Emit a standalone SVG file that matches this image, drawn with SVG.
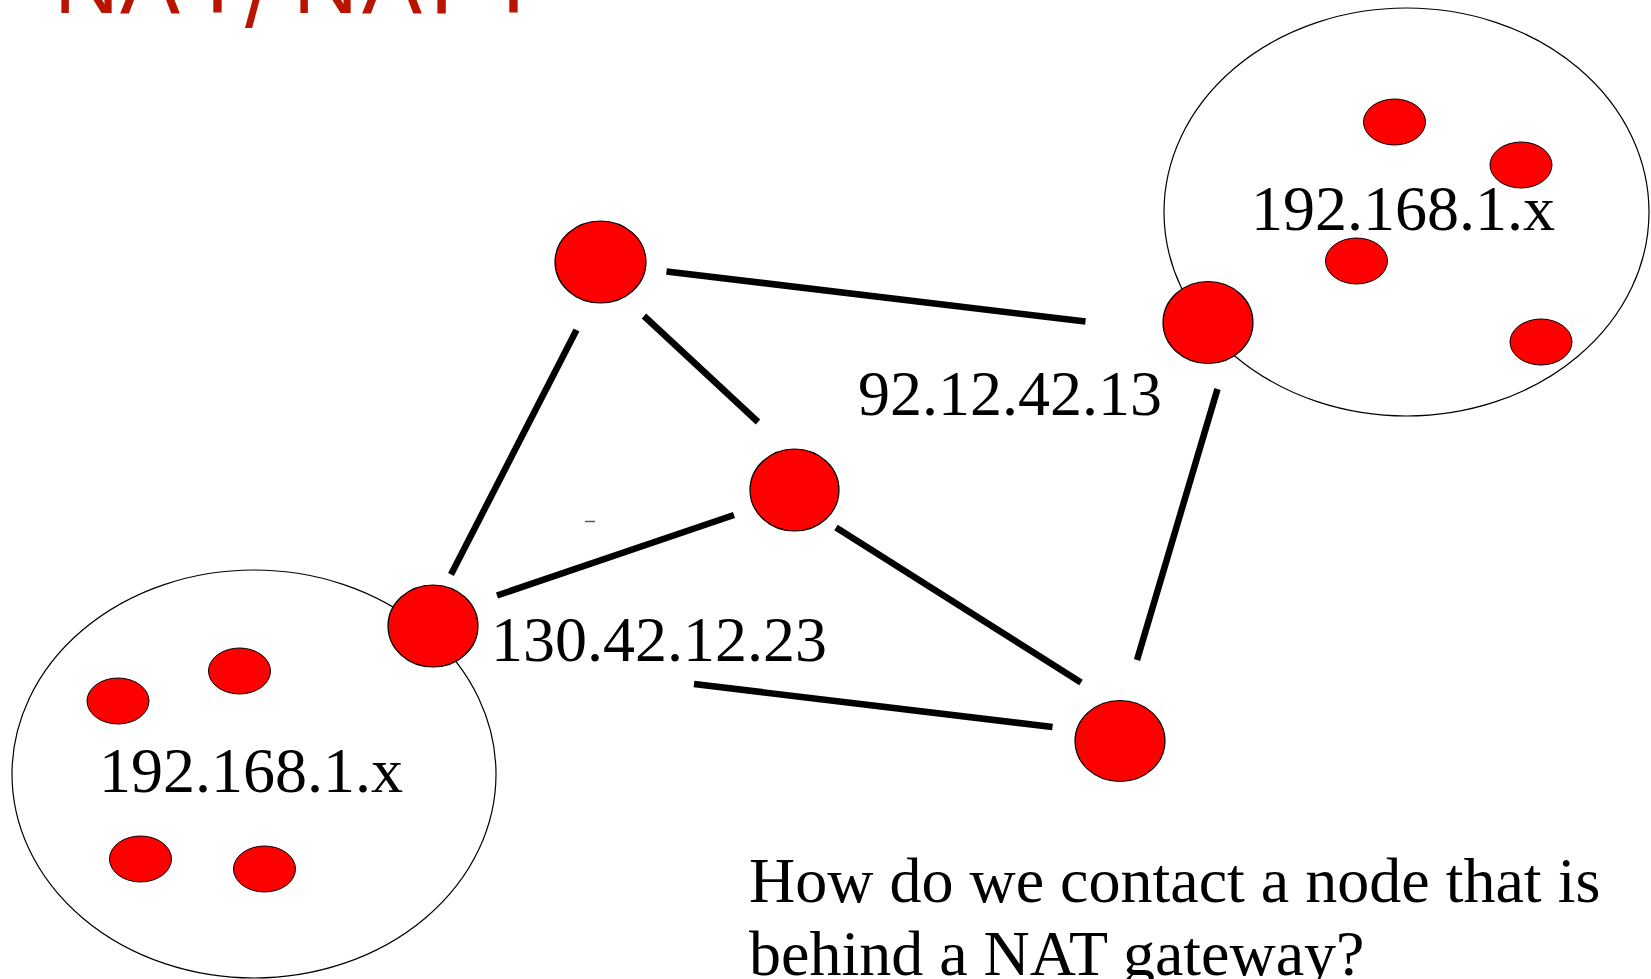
<svg xmlns="http://www.w3.org/2000/svg" width="1651" height="979" viewBox="0 0 1651 979">
  <style>
    .title { font-family: "Liberation Sans", Arial, sans-serif; font-size: 90px; fill: #b81400; }
    .lbl { font-family: "Liberation Serif", "Times New Roman", serif; font-size: 64px; fill: #000; }
    .cloud { fill: #fff; stroke: #000; stroke-width: 1.2; }
    .node { fill: #ff0000; stroke: #000; stroke-width: 1.2; }
    .host { fill: #ff0000; stroke: #000; stroke-width: 1; }
    .link { stroke: #000; stroke-width: 6.5; stroke-linecap: butt; fill: none; }
  </style>
  <rect width="1651" height="979" fill="#fff"/>

  <!-- slide title, mostly above the visible area -->
  <text class="title" x="54 120 190 245 293 362 430 486" y="13 13 13 27 13 13 13 13">NAT/NAPT</text>

  <!-- private networks -->
  <g id="net-right">
    <ellipse class="cloud" cx="1406.5" cy="212" rx="242.5" ry="204"/>
    <ellipse class="host" cx="1394.5" cy="122" rx="31" ry="23"/>
    <ellipse class="host" cx="1521" cy="165" rx="31" ry="23"/>
    <ellipse class="host" cx="1356.5" cy="261" rx="31" ry="23"/>
    <ellipse class="host" cx="1541" cy="342" rx="31" ry="23"/>
    <text class="lbl" x="1251" y="230">192.168.1.x</text>
  </g>
  <g id="net-left">
    <ellipse class="cloud" cx="254" cy="774" rx="242" ry="204"/>
    <ellipse class="host" cx="118" cy="701" rx="31" ry="23"/>
    <ellipse class="host" cx="239.5" cy="671" rx="31" ry="23"/>
    <ellipse class="host" cx="140.5" cy="859" rx="31" ry="23"/>
    <ellipse class="host" cx="264.5" cy="869" rx="31" ry="23"/>
    <text class="lbl" x="99" y="792">192.168.1.x</text>
  </g>

  <!-- links between public nodes -->
  <g id="links">
    <line class="link" x1="666.5" y1="271.5" x2="1085.5" y2="321.5"/>
    <line class="link" x1="644" y1="316" x2="758" y2="422"/>
    <line class="link" x1="576.5" y1="330" x2="451" y2="574.5"/>
    <line class="link" x1="497" y1="595.5" x2="734" y2="515"/>
    <line class="link" x1="836" y1="527.5" x2="1081" y2="682.5"/>
    <line class="link" x1="1217.5" y1="389" x2="1137" y2="660"/>
    <line class="link" x1="694" y1="684" x2="1052.5" y2="727"/>
    <line x1="585" y1="521.5" x2="595" y2="521.5" stroke="#555" stroke-width="1.5"/>
  </g>

  <!-- public nodes -->
  <g id="node-top"><ellipse class="node" cx="600.5" cy="262" rx="45.5" ry="41"/></g>
  <g id="node-mid"><ellipse class="node" cx="794.5" cy="490" rx="44.5" ry="41"/></g>
  <g id="node-bottom"><ellipse class="node" cx="1120" cy="741" rx="45" ry="40.5"/></g>
  <g id="gw-left"><ellipse class="node" cx="433" cy="626" rx="45" ry="41"/></g>
  <g id="gw-right"><ellipse class="node" cx="1208" cy="322.5" rx="45" ry="41"/></g>

  <!-- gateway addresses -->
  <text class="lbl" x="858" y="415">92.12.42.13</text>
  <text class="lbl" x="491" y="661">130.42.12.23</text>

  <!-- question -->
  <text class="lbl" x="749" y="902">How do we contact a node that is</text>
  <text class="lbl" x="749" y="975">behind a NAT gateway?</text>
</svg>
